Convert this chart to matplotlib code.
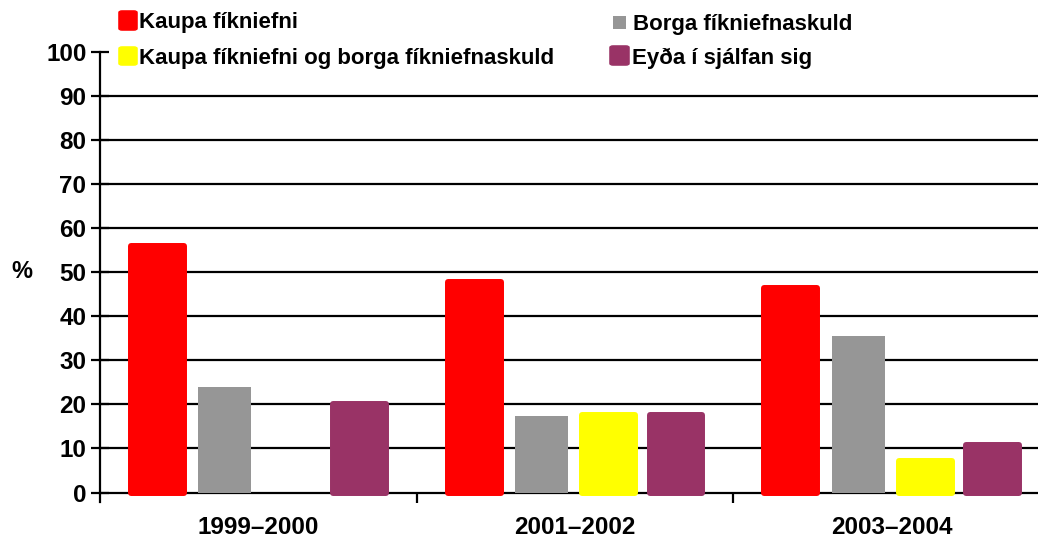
import numpy as np
import matplotlib
matplotlib.use("Agg")
import matplotlib.pyplot as plt
from matplotlib.patches import FancyBboxPatch, Rectangle

# ---- data ----
periods = ["1999–2000", "2001–2002", "2003–2004"]
series_names = ["Kaupa fíkniefni", "Borga fíkniefnaskuld",
                "Kaupa fíkniefni og borga fíkniefnaskuld", "Eyða í sjálfan sig"]
kaupa = [55.9, 47.8, 46.5]
borga = [23.9, 17.4, 35.6]
kaupa_og_borga = [np.nan, 17.5, 7.2]
eyda = [20.0, 17.5, 10.7]
series_values = [kaupa, borga, kaupa_og_borga, eyda]
y_ticks = [0, 10, 20, 30, 40, 50, 60, 70, 80, 90, 100]
y_label = "%"

colors = ["#FF0000", "#969696", "#FFFF00", "#993366"]
rounded = [True, False, True, True]

W, H = 1038, 539
plt.rcParams['font.family'] = ['Liberation Sans', 'DejaVu Sans']
plt.rcParams['font.weight'] = 'bold'
fig = plt.figure(figsize=(W / 100, H / 100), dpi=100)

def fx(x):
    return x / W

def fy(y):
    return 1 - y / H

ax_left, ax_right, ax_top, ax_bot = 100, 100 + 3 * 316.7, 52, 492.5
ax = fig.add_axes([fx(ax_left), fy(ax_bot), (ax_right - ax_left) / W, (ax_bot - ax_top) / H])
ax.set_xlim(-0.5, 2.5)
ax.set_ylim(0, 100)

# gridlines (not at 100)
for t in y_ticks[1:-1]:
    ax.axhline(t, color="black", lw=1.6, zorder=1, clip_on=False)

x = np.arange(len(periods))
slot = 0.2125
bw = 0.167
for i, (vals, c, r) in enumerate(zip(series_values, colors, rounded)):
    off = (i - 1.5) * slot
    bars = ax.bar(x + off, vals, width=bw, color=c, zorder=3,
                  edgecolor=c if r else 'none', linewidth=4.3 if r else 0)
    for b in bars:
        b.set_joinstyle('round')
        b.set_clip_on(False)

for s in ["top", "right"]:
    ax.spines[s].set_visible(False)
ax.spines["left"].set_linewidth(1.6)
ax.spines["bottom"].set_linewidth(1.6)
ax.spines["left"].set_bounds(-2.2, 100)
ax.spines["left"].set_zorder(4)
ax.spines["bottom"].set_zorder(2)

ax.set_yticks(y_ticks)
ax.set_yticklabels([str(t) for t in y_ticks])
ax.tick_params(axis='y', direction='inout', length=13.5, width=1.6, pad=3,
               labelsize=17.5, color='black')
ax.set_xticks([0.5, 1.5])
ax.set_xticklabels(["", ""])
ax.tick_params(axis='x', which='major', direction='out', length=7, width=1.6)
ax.set_xticks(x, minor=True)
ax.set_xticklabels(periods, minor=True)
ax.tick_params(axis='x', which='minor', length=0, pad=17, labelsize=17.5)
for lab in ax.get_xticklabels(minor=True) + ax.get_yticklabels():
    lab.set_fontweight('bold')

fig.text(fx(22), fy(272), y_label, fontsize=17, fontweight='bold',
         ha='center', va='center')

# legend (manual)
leg = [
    # (marker box x0, y0, x1, y1), text x, baseline y
    ((119, 10, 137, 31), 139, 28),
    ((613, 16, 626, 29), 633, 30),
    ((119, 46, 137, 66), 139, 64),
    ((610, 45, 629, 66), 632, 64),
]
for (box, tx, ty), name, c, r in zip(leg, series_names, colors, rounded):
    x0, y0, x1, y1 = box
    if r:
        p = FancyBboxPatch((fx(x0 + 2), fy(y1 - 2)), (x1 - x0 - 4) / W, (y1 - y0 - 4) / H,
                           boxstyle="round,pad=0.002,rounding_size=0.003",
                           transform=fig.transFigure, facecolor=c, edgecolor=c, lw=1)
    else:
        p = Rectangle((fx(x0), fy(y1)), (x1 - x0) / W, (y1 - y0) / H,
                      transform=fig.transFigure, facecolor=c, edgecolor='none')
    fig.patches.append(p)
    fig.text(fx(tx), fy(ty), name, fontsize=16, fontweight='bold',
             ha='left', va='baseline')

fig.savefig("out.png", dpi=100)
